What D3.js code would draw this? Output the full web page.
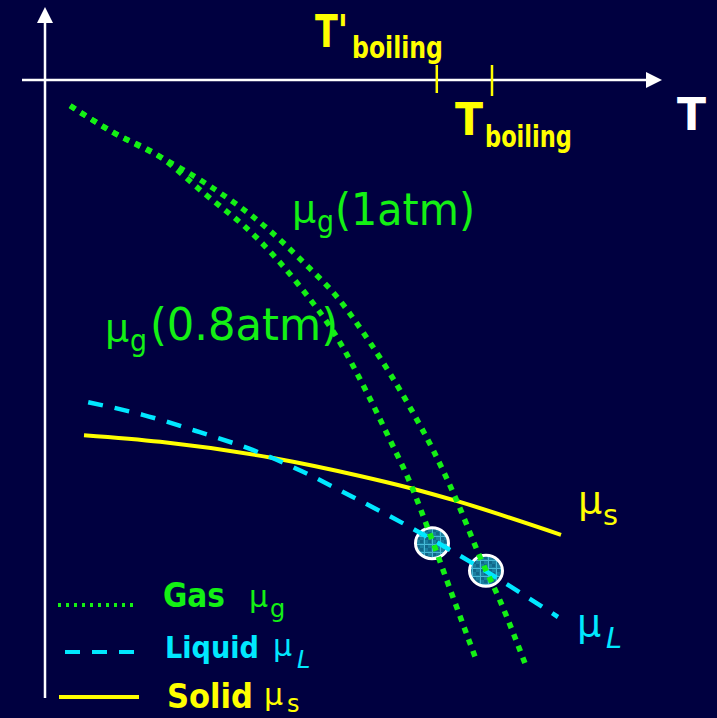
<!DOCTYPE html>
<html>
<head>
<meta charset="utf-8">
<script src="https://cdn.jsdelivr.net/npm/d3@7"></script>
<style>
  html, body { margin: 0; padding: 0; background: #000040; }
  svg { display: block; }
</style>
</head>
<body>
<div id="container"></div>
<script>
// T in arbitrary units (0..10), mu in arbitrary units (0 .. -10)
const gas1atm = [[0.42,-0.43],[1.13,-0.87],[1.92,-1.28],[2.72,-1.75],[3.70,-2.47],[4.30,-3.03],[4.87,-3.62],[5.42,-4.38],[6.08,-5.45],[6.47,-6.17],[6.87,-7.03],[7.25,-7.95],[7.58,-8.67],[8.03,-9.80]];
const gas08atm = [[0.42,-0.43],[1.13,-0.87],[1.92,-1.28],[2.63,-1.87],[3.53,-2.63],[4.20,-3.38],[4.92,-4.38],[5.37,-5.22],[5.75,-6.00],[6.08,-6.70],[6.42,-7.58],[6.80,-8.62],[7.20,-9.70]];
const liquid = [[0.72,-5.37],[1.63,-5.58],[2.58,-5.87],[3.47,-6.17],[4.30,-6.53],[5.13,-6.95],[6.08,-7.45],[6.47,-7.67],[7.37,-8.20],[8.55,-8.95]];
const solid = [[0.65,-5.92],[1.92,-6.03],[3.80,-6.30],[5.25,-6.60],[6.08,-6.80],[6.87,-7.02],[8.60,-7.58]];
const boilingT = [6.53, 7.45]; // T'boiling, Tboiling
const crossings = [[6.45,-7.72],[7.35,-8.18]];

const w = 717; // canvas width
const h = 718; // canvas height
const font = '"Comic Sans MS", "DejaVu Sans", sans-serif';
const green = "#14f014", cyan = "#00e8ff", yellow = "#ffff00";

const svg = d3.select("#container").append("svg").attr("width", w).attr("height", h).style("background-color", "#000040");

const xScale = d3.scaleLinear().domain([0, 10]).range([45, 645]);
const yScale = d3.scaleLinear().domain([0, -10]).range([80, 680]);

const defs = svg.append("defs");
const pat = defs.append("pattern").attr("id", "grid").attr("width", 8).attr("height", 8).attr("patternUnits", "userSpaceOnUse");
pat.append("rect").attr("width", 8).attr("height", 8).attr("fill", "#1a7fa0");
pat.append("rect").attr("x", 1).attr("y", 1).attr("width", 3).attr("height", 3).attr("fill", "#11678a");
pat.append("rect").attr("x", 4).attr("y", 4).attr("width", 3).attr("height", 3).attr("fill", "#11678a");
pat.append("path").attr("d", "M0,0.5H8M0.5,0V8").attr("stroke", "#46b9d6").attr("stroke-width", 1);

// axes with arrow heads
const x0 = xScale(0), y0 = yScale(0);
svg.append("line").attr("x1", 22).attr("x2", 648).attr("y1", y0).attr("y2", y0).attr("stroke", "white").attr("stroke-width", 2.5);
svg.append("path").attr("d", `M662,${y0} L646,${y0 - 8} L646,${y0 + 8} Z`).attr("fill", "white");
svg.append("line").attr("x1", x0).attr("x2", x0).attr("y1", 698).attr("y2", 20).attr("stroke", "white").attr("stroke-width", 2.5);
svg.append("path").attr("d", `M${x0},7 L${x0 - 8},23 L${x0 + 8},23 Z`).attr("fill", "white");

// boiling ticks
svg.selectAll(".tick").data(boilingT).enter().append("line").attr("class", "tick")
  .attr("x1", d => xScale(d)).attr("x2", d => xScale(d)).attr("y1", y0 - 15).attr("y2", (d, i) => y0 + 13 + i * 3)
  .attr("stroke", yellow).attr("stroke-width", 2.5);

// intersection circles
svg.selectAll(".cross").data(crossings).enter().append("ellipse").attr("class", "cross")
  .attr("cx", d => xScale(d[0])).attr("cy", d => yScale(d[1])).attr("rx", 16.5).attr("ry", 15.5)
  .attr("fill", "url(#grid)").attr("stroke", "white").attr("stroke-width", 3);

const line = d3.line().x(d => xScale(d[0])).y(d => yScale(d[1])).curve(d3.curveMonotoneX);

svg.append("path").datum(solid).attr("d", line).attr("fill", "none").attr("stroke", yellow).attr("stroke-width", 4);
svg.append("path").datum(liquid).attr("d", line).attr("fill", "none").attr("stroke", cyan).attr("stroke-width", 4.5).attr("stroke-dasharray", "15,12");
[gas08atm, gas1atm].forEach(g => {
  svg.append("path").datum(g).attr("d", line).attr("fill", "none").attr("stroke", green).attr("stroke-width", 5.5).attr("stroke-dasharray", "6,6.5");
});

// text helper: main text plus subscript
function label(x, y, main, sub, opt) {
  const t = svg.append("text").attr("x", x).attr("y", y).attr("font-family", opt.family || font).attr("fill", opt.color)
    .attr("font-size", opt.size).attr("font-weight", opt.weight || "normal");
  const m = t.append("tspan").text(main);
  if (opt.len) m.attr("textLength", opt.len).attr("lengthAdjust", "spacingAndGlyphs");
  if (sub) {
    const s = svg.append("text").attr("x", opt.sx).attr("y", opt.sy).attr("font-family", opt.family || font).attr("fill", opt.color)
      .attr("font-size", opt.subSize).attr("font-weight", opt.weight || "normal").attr("font-style", opt.subStyle || "normal").text(sub);
    if (opt.subLen) s.attr("textLength", opt.subLen).attr("lengthAdjust", "spacingAndGlyphs");
  }
  return t;
}

// T labels
label(315, 47, "T'", "boiling", {color: yellow, size: 44, weight: "bold", len: 33, sx: 352, sy: 58, subSize: 30, subLen: 91});
label(455, 135, "T", "boiling", {color: yellow, size: 44, weight: "bold", len: 28, sx: 485, sy: 147, subSize: 30, subLen: 87});
label(677, 130, "T", null, {color: "white", size: 44, weight: "bold", len: 29});

// curve labels
label(292, 222, "μ", "g", {color: green, size: 38, sx: 317, sy: 232, subSize: 30, subLen: 17});
label(335, 225, "(1atm)", null, {color: green, size: 45, len: 140});
label(105, 341, "μ", "g", {color: green, size: 38, sx: 130, sy: 351, subSize: 30, subLen: 17});
label(150, 340, "(0.8atm)", null, {color: green, size: 45, len: 188});
label(578, 513, "μ", "s", {color: yellow, size: 38, sx: 603, sy: 525, subSize: 28, subLen: 15});
label(577, 636, "μ", "L", {color: cyan, size: 38, sx: 606, sy: 648, subSize: 28, subLen: 16, subStyle: "italic"});

// legend
const legend = [
  {name: "Gas", color: green, dash: "3,5", width: 4, y: 605, x1: 58, x2: 135, tx: 163, ty: 607, my: 607, size: 34, len: 62, mx: 249, sub: "g", sx: 270, sy: 617},
  {name: "Liquid", color: cyan, dash: "15,12", width: 4, y: 652, x1: 65, x2: 137, tx: 165, ty: 658, my: 656, size: 30, len: 94, mx: 273, sub: "L", sx: 297, sy: 668},
  {name: "Solid", color: yellow, dash: null, width: 4, y: 697, x1: 59, x2: 139, tx: 167, ty: 708, my: 705, size: 34, len: 86, mx: 264, sub: "s", sx: 287, sy: 712}
];
legend.forEach(d => {
  const l = svg.append("line").attr("x1", d.x1).attr("x2", d.x2).attr("y1", d.y).attr("y2", d.y).attr("stroke", d.color).attr("stroke-width", d.width);
  if (d.dash) l.attr("stroke-dasharray", d.dash);
  label(d.tx, d.ty, d.name, null, {color: d.color, size: d.size, weight: "bold", len: d.len});
  label(d.mx, d.my, "μ", d.sub, {color: d.color, size: 30, sx: d.sx, sy: d.sy, subSize: 24, subStyle: d.sub === "L" ? "italic" : "normal"});
});
</script>
</body>
</html>
